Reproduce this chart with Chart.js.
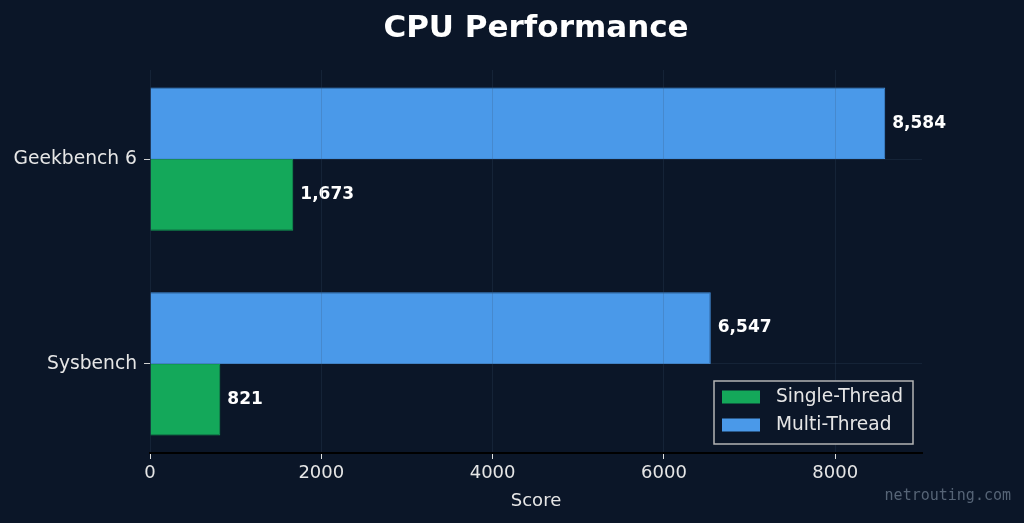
<!DOCTYPE html>
<html>
<head>
<meta charset="utf-8">
<title>CPU Performance</title>
<script src="https://cdn.jsdelivr.net/npm/chart.js@4.4.1/dist/chart.umd.min.js"></script>
<style>
  html, body { margin: 0; padding: 0; background: #0b1628; }
  #wrap { width: 1024px; height: 523px; }
</style>
</head>
<body>
<div id="wrap"><canvas id="cpuChart"></canvas></div>
<script>
// chart data
const benchmarks = ['Geekbench 6', 'Sysbench'];
const singleThread = [1673, 821];
const multiThread = [8584, 6547];
const scoreTicks = [0, 2000, 4000, 6000, 8000];
const scoreMax = 9013;

const BG = '#0b1628';
const GRID = 'rgba(60, 80, 110, 0.22)';
const TEXT = '#e6e6e6';

Chart.defaults.font.family = '"DejaVu Sans", sans-serif';

function toPoints(values) {
    return values.map((v, i) => ({ x: v, y: i }));
}

// value labels at the end of each bar
const barLabels = {
    id: 'barLabels',
    afterDatasetsDraw(chart) {
        const ctx = chart.ctx;
        ctx.save();
        ctx.font = 'bold 17px "DejaVu Sans"';
        ctx.fillStyle = '#ffffff';
        ctx.textBaseline = 'middle';
        chart.data.datasets.forEach((ds, i) => {
            chart.getDatasetMeta(i).data.forEach((bar, j) => {
                ctx.fillText(ds.data[j].x.toLocaleString('en-US'), bar.x + 7, bar.y);
            });
        });
        ctx.restore();
    }
};

// title, legend box and watermark
const decorations = {
    id: 'decorations',
    afterDraw(chart) {
        const ctx = chart.ctx;
        const area = chart.chartArea;
        ctx.save();

        ctx.font = 'bold 31px "DejaVu Sans"';
        ctx.fillStyle = '#ffffff';
        ctx.textAlign = 'center';
        ctx.textBaseline = 'alphabetic';
        ctx.fillText('CPU Performance', (area.left + area.right) / 2, 37);

        // legend (single first, like the reference)
        const lx = 714, ly = 381, lw = 199, lh = 63;
        ctx.fillStyle = BG;
        ctx.fillRect(lx, ly, lw, lh);
        ctx.strokeStyle = '#b4b4b4';
        ctx.lineWidth = 1.5;
        ctx.strokeRect(lx, ly, lw, lh);
        const entries = chart.data.datasets.slice().reverse();
        ctx.font = '18.6px "DejaVu Sans"';
        ctx.textAlign = 'left';
        ctx.textBaseline = 'middle';
        entries.forEach((ds, i) => {
            const cy = ly + 16 + i * 28;
            ctx.fillStyle = ds.backgroundColor;
            ctx.fillRect(lx + 8, cy - 6.5, 38, 13);
            ctx.fillStyle = TEXT;
            ctx.fillText(ds.label, lx + 62, cy);
        });

        ctx.font = '15px "DejaVu Sans Mono"';
        ctx.fillStyle = '#566476';
        ctx.textAlign = 'right';
        ctx.fillText('netrouting.com', 1011, 496);
        ctx.restore();
    }
};

new Chart(document.getElementById('cpuChart'), {
    type: 'bar',
    data: {
        datasets: [{
            label: 'Multi-Thread',
            data: toPoints(multiThread),
            backgroundColor: '#4a99e9',
            borderColor: '#4390de',
            borderWidth: 1
        }, {
            label: 'Single-Thread',
            data: toPoints(singleThread),
            backgroundColor: '#14a85a',
            borderColor: '#119c52',
            borderWidth: 1
        }]
    },
    options: {
        indexAxis: 'y',
        responsive: true,
        maintainAspectRatio: false,
        animation: false,
        layout: { padding: { top: 70, right: 102, left: 0, bottom: 0 } },
        categoryPercentage: 0.7,
        barPercentage: 1,
        plugins: {
            legend: { display: false },
            tooltip: { enabled: false }
        },
        scales: {
            x: {
                type: 'linear',
                min: 0,
                max: scoreMax,
                afterBuildTicks: scale => { scale.ticks = scoreTicks.map(v => ({ value: v })); },
                afterFit: scale => { scale.height = 70; },
                ticks: {
                    color: TEXT,
                    font: { size: 18 },
                    padding: 4,
                    callback: value => String(value)
                },
                grid: {
                    color: GRID,
                    z: 1,
                    tickLength: 6,
                    tickColor: '#e0e0e0'
                },
                border: { color: '#000000', width: 2, z: 2 },
                title: {
                    display: true,
                    text: 'Score',
                    color: TEXT,
                    font: { size: 18 },
                    padding: { top: 4, bottom: 11 }
                }
            },
            y: {
                type: 'linear',
                offset: false,
                min: -0.435,
                max: 1.435,
                reverse: true,
                afterBuildTicks: scale => { scale.ticks = benchmarks.map((_, i) => ({ value: i })); },
                afterFit: scale => { scale.width = 150; },
                ticks: {
                    color: TEXT,
                    font: { size: 18.7 },
                    padding: 7,
                    callback: value => benchmarks[value]
                },
                grid: {
                    offset: false,
                    color: GRID,
                    z: 1,
                    tickLength: 6,
                    tickColor: '#d0d0d0'
                },
                border: { display: false }
            }
        }
    },
    plugins: [barLabels, decorations]
});
</script>
</body>
</html>
